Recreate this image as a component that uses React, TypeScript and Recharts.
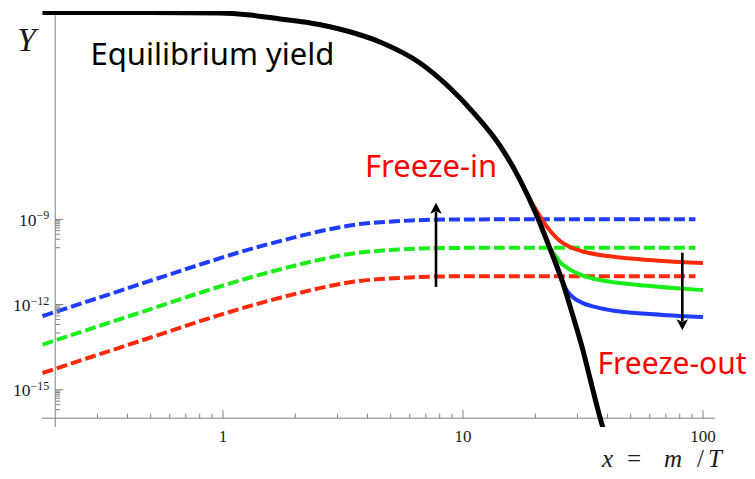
import React from 'react';
import { LineChart, Line, XAxis, YAxis, ReferenceLine } from 'recharts';

// ---------- data ----------
// Equilibrium yield (black)
const xEq = [0.177, 0.497, 0.972, 1.30, 1.73, 2.31, 3.29, 4.51, 6.62, 8.83, 11.2, 14.3, 17.3, 20.5, 23.0, 26.1, 28.4, 31.6, 33.8, 37.2, 38.3];
const yEq = [1.9e-2, 1.9e-2, 1.84e-2, 1.56e-2, 1.13e-2, 8.2e-3, 4.27e-3, 1.75e-3, 3.19e-4, 4.2e-5, 5.1e-6, 3.81e-7, 2.42e-8, 1.11e-9, 9.75e-11, 5.7e-12, 5.44e-13, 2.5e-14, 2.58e-15, 1.09e-16, 4.5e-17];

// Freeze-in (dashed)
const xIn = [0.177, 0.307, 0.496, 0.802, 1.30, 2.09, 2.53, 3.07, 3.72, 4.51, 5.47, 7.29, 9.72, 14.0, 93];
const yInBlue = [3.94e-13, 1.79e-12, 6.78e-12, 2.56e-11, 9.0e-11, 2.58e-10, 3.8e-10, 5.3e-10, 6.8e-10, 7.9e-10, 8.7e-10, 9.6e-10, 9.9e-10, 1.0e-9, 1.0e-9];
const yInGreen = [3.9e-14, 1.8e-13, 6.8e-13, 2.6e-12, 9.0e-12, 2.6e-11, 3.8e-11, 5.3e-11, 6.8e-11, 7.9e-11, 8.7e-11, 9.6e-11, 9.9e-11, 1.0e-10, 1.0e-10];
const yInRed = [3.9e-15, 1.8e-14, 6.8e-14, 2.6e-13, 9.0e-13, 2.6e-12, 3.8e-12, 5.3e-12, 6.8e-12, 7.9e-12, 8.7e-12, 9.6e-12, 9.9e-12, 1.0e-11, 1.0e-11];

// Freeze-out (solid)
const xOutRed = [17.3, 19.95, 21.97, 23.49, 25.36, 27.91, 32.23, 37.24, 45.1, 60.1, 80.2, 100];
const yOutRed = [2.42e-8, 2.5e-9, 6.84e-10, 3.3e-10, 1.72e-10, 1.06e-10, 7.06e-11, 5.53e-11, 4.52e-11, 3.69e-11, 3.13e-11, 2.89e-11];
const xOutGreen = [20.5, 23.0, 24.17, 25.36, 27.1, 31.62, 37.24, 45.1, 60.1, 80.2, 100];
const yOutGreen = [1.11e-9, 9.75e-11, 5.53e-11, 3.13e-11, 2.01e-11, 1.05e-11, 7.3e-12, 5.7e-12, 4.48e-12, 3.66e-12, 3.24e-12];
const xOutBlue = [23.0, 26.1, 27.38, 29.0, 31.62, 37.24, 45.1, 60.1, 80.2, 100];
const yOutBlue = [9.75e-11, 5.7e-12, 2.75e-12, 1.69e-12, 1.13e-12, 7.53e-13, 5.67e-13, 4.63e-13, 3.94e-13, 3.63e-13];

// arrows [x, yFrom, yTo]
const arrowUp = [7.72, 4.2e-12, 3.85e-9];
const arrowDown = [82.0, 6.7e-11, 1.26e-13];

// ticks
const xMajor = [1, 10, 100];
const xMajorLabels = ['1', '10', '100'];
const xMinor = [0.3, 0.4, 0.5, 0.6, 0.7, 0.8, 0.9, 2, 3, 4, 5, 6, 7, 8, 9, 20, 30, 40, 50, 60, 70, 80, 90];
const yMajor = [1e-9, 1e-12, 1e-15];
const yMajorExp = ['\u22129', '\u221212', '\u221215'];
const yMinor = [
  9e-10, 8e-10, 7e-10, 6e-10, 5e-10, 4e-10, 3e-10, 2e-10, 1e-10,
  9e-13, 8e-13, 7e-13, 6e-13, 5e-13, 4e-13, 3e-13, 2e-13, 1e-13,
  9e-16, 8e-16, 7e-16, 6e-16, 5e-16, 4e-16, 3e-16, 2e-16,
];

// ---------- layout ----------
const W = 747, H = 463;
const MARGIN = { top: 3, right: 40, bottom: 0, left: 0 };
const Y_AXIS_W = 34, X_AXIS_H = 44;
const PLOT_W = W - MARGIN.left - MARGIN.right - Y_AXIS_W;
const PLOT_H = H - MARGIN.top - MARGIN.bottom - X_AXIS_H;
const X_MIN = 0.1762, X_MAX = 112.2;
const Y_MIN = 4.9e-17, Y_MAX = 2.16e-2;
const X_ORIGIN = 0.2, Y_ORIGIN = 1e-16;
const lg = Math.log10;
const X_AX_OFF = ((lg(Y_ORIGIN) - lg(Y_MIN)) / (lg(Y_MAX) - lg(Y_MIN))) * PLOT_H;
const Y_AX_OFF = ((lg(X_ORIGIN) - lg(X_MIN)) / (lg(X_MAX) - lg(X_MIN))) * PLOT_W;
const AXIS_Y = MARGIN.top + PLOT_H - X_AX_OFF;
const AXIS_X = MARGIN.left + Y_AXIS_W + Y_AX_OFF;

const AXIS = '#808080';
const LABEL = '#1a1a1a';
const SERIF = '"Liberation Serif", "DejaVu Serif", serif';
const SANS = '"Noto Sans", "Open Sans", sans-serif';
const BLUE = '#1f3cff';
const GREEN = '#1aee1a';
const RED = '#ff2a0a';

const zip = (xs: number[], ys: number[]) => xs.map((x, i) => ({ x, y: ys[i] }));
const eqData = zip(xEq, yEq);
const inBlue = zip(xIn, yInBlue);
const inGreen = zip(xIn, yInGreen);
const inRed = zip(xIn, yInRed);
const outRed = zip(xOutRed, yOutRed);
const outGreen = zip(xOutGreen, yOutGreen);
const outBlue = zip(xOutBlue, yOutBlue);
const xTicks = [...xMinor, ...xMajor].sort((a, b) => a - b);
const yTicks = [...yMinor, ...yMajor].sort((a, b) => a - b);

const XTick = (p: any) => {
  const { x, payload } = p;
  const v = payload.value;
  const mi = xMajor.indexOf(v);
  const major = mi >= 0;
  return (
    <g>
      <line x1={x} x2={x} y1={AXIS_Y} y2={AXIS_Y - (major ? 8 : 4.5)} stroke={AXIS} strokeWidth={1} />
      {major && (
        <text x={x} y={AXIS_Y + 23.5} textAnchor="middle" fontFamily={SERIF} fontSize={17} fill={LABEL}>
          {xMajorLabels[mi]}
        </text>
      )}
    </g>
  );
};

const YTick = (p: any) => {
  const { y, payload } = p;
  const v = payload.value;
  const mi = yMajor.indexOf(v);
  const major = mi >= 0;
  return (
    <g>
      <line x1={AXIS_X} x2={AXIS_X + (major ? 8 : 5)} y1={y} y2={y} stroke={AXIS} strokeWidth={1} />
      {major && (
        <text x={AXIS_X - 6} y={y + 6.5} textAnchor="end" fontFamily={SERIF} fill={LABEL}>
          <tspan fontSize={17.5}>10</tspan>
          <tspan fontSize={12} dy={-6.5}>{yMajorExp[mi]}</tspan>
        </text>
      )}
    </g>
  );
};

const Arrow = (props: any) => {
  const { x1, y1, x2, y2 } = props;
  const dx = x2 - x1, dy = y2 - y1;
  const len = Math.hypot(dx, dy) || 1;
  const ux = dx / len, uy = dy / len;
  const hl = 11, hw = 5.8;
  const bx = x2 - ux * hl, by = y2 - uy * hl;
  const px = -uy, py = ux;
  return (
    <g>
      <line x1={x1} y1={y1} x2={bx + ux * 2} y2={by + uy * 2} stroke="#000" strokeWidth={2.6} />
      <polygon
        points={`${x2},${y2} ${bx + px * hw},${by + py * hw} ${bx + ux * 2.5},${by + uy * 2.5} ${bx - px * hw},${by - py * hw}`}
        fill="#000"
      />
    </g>
  );
};

export default function App() {
  const dash = { strokeWidth: 4, strokeDasharray: '11 4', dot: false, isAnimationActive: false, type: 'monotone' as const };
  const solid = { strokeWidth: 4, dot: false, isAnimationActive: false, type: 'monotone' as const };
  return (
    <div style={{ position: 'relative', width: W, height: H }}>
      <LineChart width={W} height={H} margin={MARGIN}>
        <XAxis
          type="number"
          dataKey="x"
          scale="log"
          domain={[X_MIN, X_MAX]}
          allowDataOverflow
          ticks={xTicks}
          interval={0}
          tick={<XTick />}
          tickLine={false}
          axisLine={false}
          tickSize={0}
          tickMargin={0}
          height={X_AXIS_H}
        />
        <YAxis
          type="number"
          dataKey="y"
          scale="log"
          domain={[Y_MIN, Y_MAX]}
          allowDataOverflow
          ticks={yTicks}
          interval={0}
          tick={<YTick />}
          tickLine={false}
          axisLine={false}
          tickSize={0}
          tickMargin={0}
          width={Y_AXIS_W}
        />
        <ReferenceLine x={X_ORIGIN} stroke={AXIS} strokeWidth={1} />
        <ReferenceLine y={Y_ORIGIN} stroke={AXIS} strokeWidth={1} />
        <Line data={inBlue} dataKey="y" stroke={BLUE} {...dash} />
        <Line data={inGreen} dataKey="y" stroke={GREEN} {...dash} />
        <Line data={inRed} dataKey="y" stroke={RED} {...dash} />
        <Line data={outRed} dataKey="y" stroke={RED} {...solid} />
        <Line data={outGreen} dataKey="y" stroke={GREEN} {...solid} />
        <Line data={outBlue} dataKey="y" stroke={BLUE} {...solid} />
        <Line data={eqData} dataKey="y" stroke="#000" strokeWidth={5} dot={false} isAnimationActive={false} type="monotone" />
        <ReferenceLine
          segment={[{ x: arrowUp[0], y: arrowUp[1] }, { x: arrowUp[0], y: arrowUp[2] }]}
          shape={(p: any) => <Arrow {...p} />}
        />
        <ReferenceLine
          segment={[{ x: arrowDown[0], y: arrowDown[1] }, { x: arrowDown[0], y: arrowDown[2] }]}
          shape={(p: any) => <Arrow {...p} />}
        />
      </LineChart>
      <svg
        width={W}
        height={H}
        style={{ position: 'absolute', left: 0, top: 0, overflow: 'visible', pointerEvents: 'none' }}
      >
        <text x={9} y={43} fontFamily={SERIF} fontStyle="italic" fontSize={34} fill={LABEL}>Y</text>
        <text x={82.5} y={56.5} fontFamily={SANS} fontSize={31} fill="#000">Equilibrium yield</text>
        <text x={357} y={168.7} fontFamily={SANS} fontSize={31} fill="#ff0000">Freeze-in</text>
        <text x={589.5} y={366} fontFamily={SANS} fontSize={30} fill="#ff0000">Freeze-out</text>
        <text y={459} fontFamily={SERIF} fontSize={25} fill={LABEL}>
          <tspan x={594} fontStyle="italic">x</tspan>
          <tspan x={619}>=</tspan>
          <tspan x={656} fontStyle="italic">m</tspan>
          <tspan x={689}>/</tspan>
          <tspan x={700} fontStyle="italic">T</tspan>
        </text>
      </svg>
    </div>
  );
}
